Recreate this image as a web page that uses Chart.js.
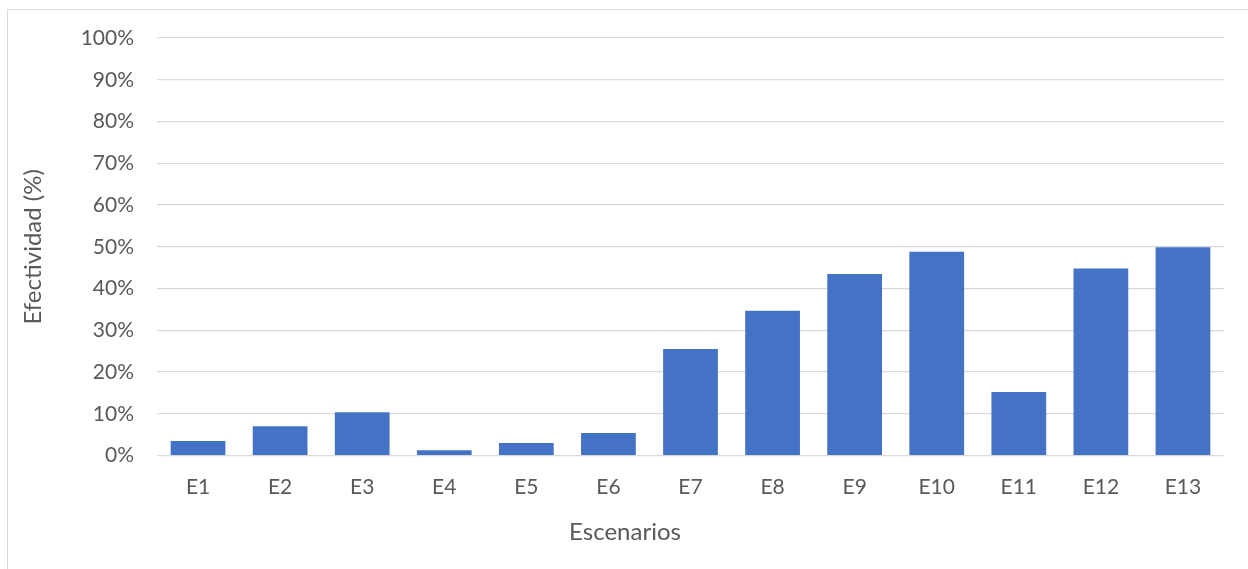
<!DOCTYPE html>
<html>
<head>
<meta charset="utf-8">
<script src="https://cdn.jsdelivr.net/npm/chart.js@4/dist/chart.umd.min.js"></script>
<style>
  html, body { margin: 0; padding: 0; background: #fff; overflow: hidden; }
  #wrap { position: relative; width: 1248px; height: 569px; }
  #frame { position: absolute; left: 7px; top: 9px; width: 1300px; height: 700px;
           border-left: 1px solid #d9d9d9; border-top: 1px solid #d9d9d9; }
  canvas { position: absolute; left: 0; top: 0; }
</style>
</head>
<body>
<div id="wrap">
  <div id="frame"></div>
  <canvas id="chart" width="1248" height="569"></canvas>
</div>
<script>
// Escenarios evaluados y su efectividad (%)
const escenarios = ['E1','E2','E3','E4','E5','E6','E7','E8','E9','E10','E11','E12','E13'];
const efectividad = [3.5, 7.0, 10.4, 1.3, 3.0, 5.4, 25.5, 34.7, 43.5, 48.8, 15.2, 44.8, 49.9];
const yTicks = [0, 10, 20, 30, 40, 50, 60, 70, 80, 90, 100];

const textColor = '#595959';
const gridColor = '#d9d9d9';
const fontFamily = 'Lato, "Open Sans", sans-serif';

new Chart(document.getElementById('chart'), {
  type: 'bar',
  data: {
    labels: escenarios,
    datasets: [{
      label: 'Efectividad',
      data: efectividad,
      backgroundColor: '#4472C4',
      borderWidth: 0,
      barPercentage: 0.667,
      categoryPercentage: 1.0
    }]
  },
  options: {
    responsive: false,
    animation: false,
    layout: { padding: { top: 38, right: 24, left: 26, bottom: 0 } },
    plugins: {
      legend: { display: false },
      tooltip: { enabled: false },
      // horizontal axis title, centred across the figure
      title: {
        display: true, position: 'bottom', text: 'Escenarios', color: textColor,
        font: { family: fontFamily, size: 24, weight: 'normal' },
        padding: { top: 0, bottom: 22 }
      }
    },
    scales: {
      x: {
        grid: { display: false, drawTicks: false },
        border: { display: false },
        ticks: { color: textColor, font: { family: fontFamily, size: 21 }, padding: 19, maxRotation: 0 },
        afterFit: (s) => { s.height = 62.6; }
      },
      y: {
        min: 0, max: 100,
        afterBuildTicks: (s) => { s.ticks = yTicks.map(v => ({ value: v })); },
        grid: { color: gridColor, lineWidth: 1.3, drawTicks: false },
        border: { display: false },
        ticks: { color: textColor, font: { family: fontFamily, size: 21 }, padding: 23,
                 callback: (v) => v + '%' },
        title: { display: true, text: 'Efectividad (%)', color: textColor,
                 font: { family: fontFamily, size: 24, lineHeight: 0.6 }, padding: { top: 0, bottom: 0 } },
        afterFit: (s) => { s.width = 131; }
      }
    }
  }
});
</script>
</body>
</html>
